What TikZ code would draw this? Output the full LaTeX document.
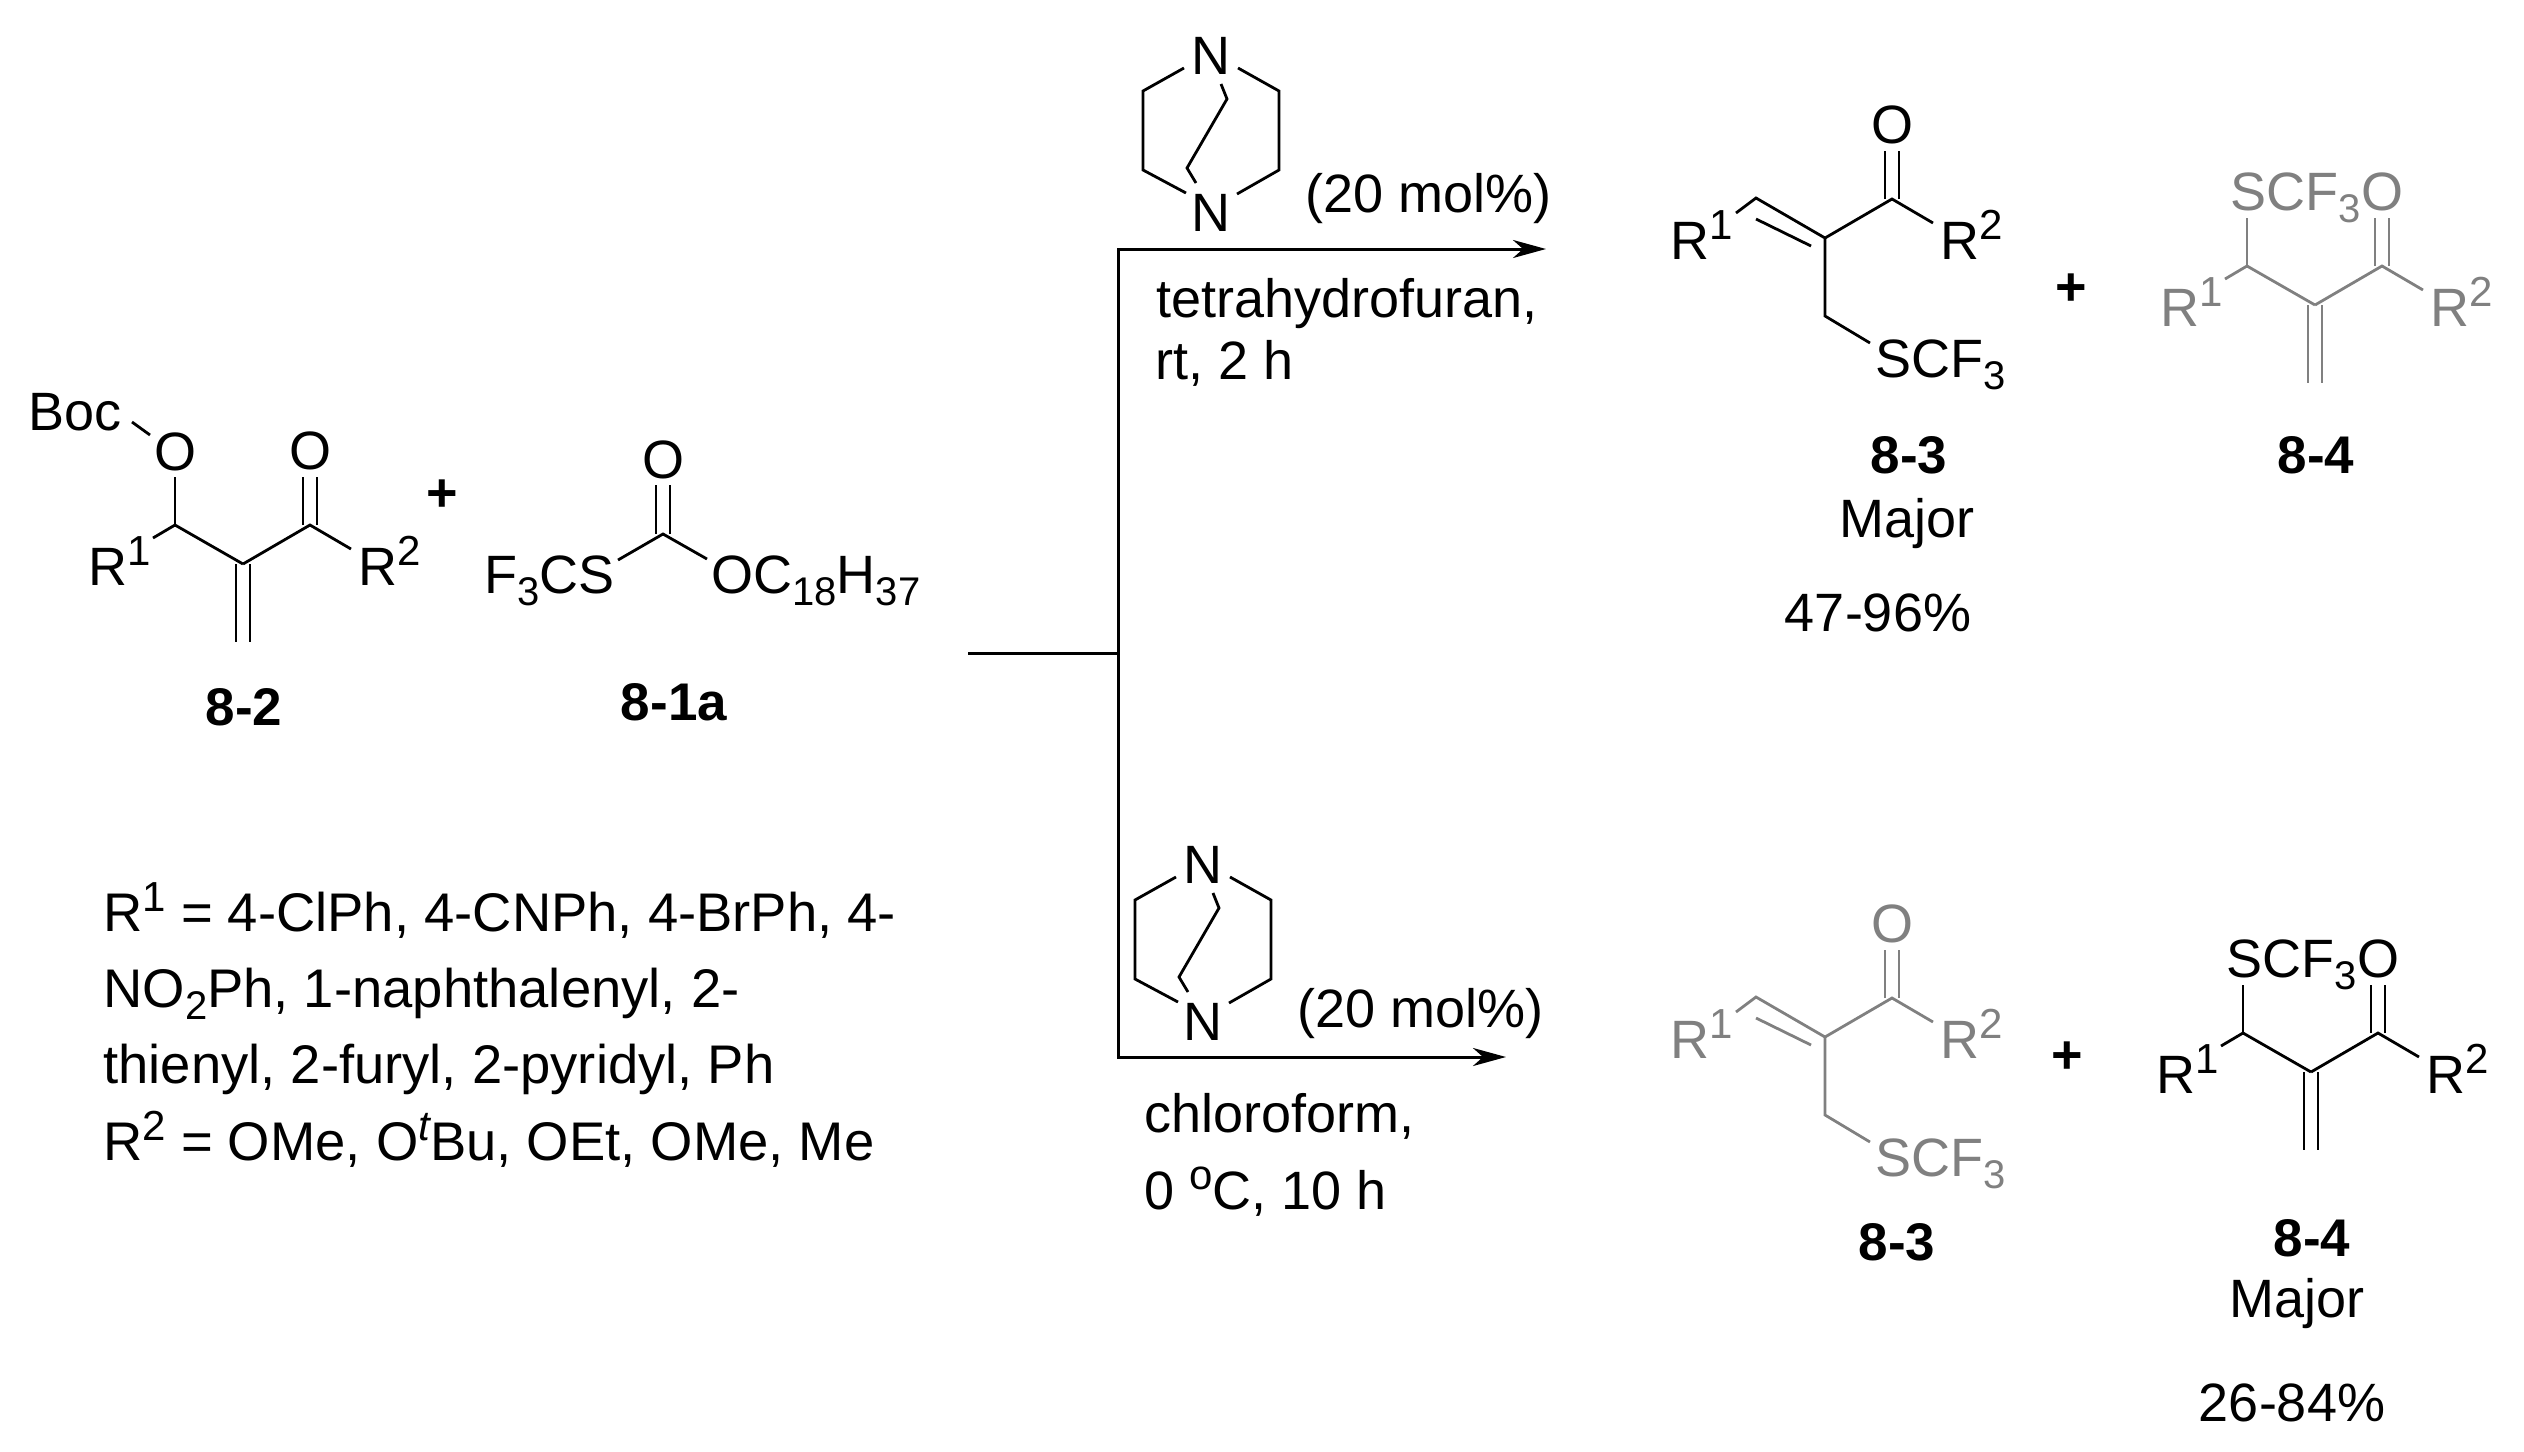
\documentclass[tikz,border=0pt]{standalone}
\usepackage{fontspec}
\setmainfont{Liberation Sans}
\usetikzlibrary{arrows.meta}
\definecolor{prodgrey}{HTML}{808080}
\newcommand{\sps}[1]{\raisebox{10pt}{\fontsize{21}{22}\selectfont #1}}
\newcommand{\sbs}[1]{\raisebox{-6pt}{\fontsize{20}{22}\selectfont #1}}
\tikzset{
  bond/.style={line width=1.4pt},
  atom/.style={inner sep=0pt,anchor=base west},
  atomc/.style={inner sep=0pt,anchor=base},
  tag/.style={inner sep=0pt,anchor=base,font=\fontsize{26.5}{30}\selectfont\bfseries},
  rxnline/.style={line width=1.5pt},
  rxnarrow/.style={line width=1.5pt,-{Stealth[length=16.5pt,width=9pt,inset=5pt]}}
}
% -- carbonyl arm
\newcommand{\carbonyl}{
\coordinate (c2) at (0,0);
\coordinate (c3) at (67,-39);
\coordinate (oa) at (60,-87);
\coordinate (ob) at (74,-87);
\coordinate (ca) at (60,-39);
\coordinate (cb) at (74,-39);
\coordinate (r2end) at (108,-15);
\node[atomc] (oxo) at (67,-95) {O};
\node[atom] (r2) at (115,21) {R\sps{2}};
\draw[bond] (c2)--(c3)--(r2end);
\draw[bond] (ca)--(oa);
\draw[bond] (cb)--(ob);
}
% -- skeleton with terminal methylene
\newcommand{\methylene}{
\carbonyl
\coordinate (c1) at (-68,-39);
\coordinate (subend) at (-68,-87);
\coordinate (r1end) at (-90,-26);
\coordinate (ma) at (-7,0);
\coordinate (mb) at (7,0);
\coordinate (na) at (-7,78);
\coordinate (nb) at (7,78);
\node[atom] (r1) at (-155,21) {R\sps{1}};
\draw[bond] (r1end)--(c1)--(c2);
\draw[bond] (c1)--(subend);
\draw[bond] (ma)--(na);
\draw[bond] (mb)--(nb);
}
% -- skeleton with internal alkene
\newcommand{\alkene}{
\carbonyl
\coordinate (c1) at (-69,-40);
\coordinate (r1end) at (-89,-25);
\coordinate (ia) at (-69,-19);
\coordinate (ib) at (-14,8);
\coordinate (ch) at (0,78);
\coordinate (send) at (45,105);
\node[atom] (r1) at (-155,21) {R\sps{1}};
\node[atom] (scf) at (50,139) {SCF\sbs{3}};
\draw[bond] (r1end)--(c1)--(c2)--(ch)--(send);
\draw[bond] (ia)--(ib);
}
% -- bicyclic amine
\newcommand{\cage}{
\node[atomc] (ntop) at (0,0) {N};
\node[atomc] (nbot) at (0,157) {N};
\coordinate (la) at (-27,-6);
\coordinate (lb) at (-68,17);
\coordinate (lc) at (-68,96);
\coordinate (ld) at (-25,119);
\coordinate (ra) at (27,-6);
\coordinate (rb) at (68,17);
\coordinate (rc) at (68,96);
\coordinate (rd) at (26,120);
\coordinate (ma) at (10,10);
\coordinate (mb) at (16,25);
\coordinate (mc) at (-24,94);
\coordinate (md) at (-15,109);
\draw[bond] (la)--(lb)--(lc)--(ld);
\draw[bond] (ra)--(rb)--(rc)--(rd);
\draw[bond] (ma)--(mb)--(mc)--(md);
}
\begin{document}
\begin{tikzpicture}[x=0.5pt,y=-0.5pt,font=\fontsize{27}{38.15}\selectfont]
\useasboundingbox (0,0) rectangle (2524,1452);
% -- starting materials
\begin{scope}[shift={(243,564)},name prefix=sm-]
\methylene
\node[atomc] (ether) at (-68,-94) {O};
\node[atom] (boc) at (-215,-134) {Boc};
\coordinate (boca) at (-111,-142);
\coordinate (bocb) at (-93,-129);
\draw[bond] (boca)--(bocb);
\end{scope}
\node[atomc] (plus1) at (442,511) {\bfseries +};
\coordinate (sc) at (663,534);
\coordinate (se) at (618,560);
\coordinate (oe) at (707,559);
\coordinate (oa) at (656,485);
\coordinate (ob) at (670,485);
\coordinate (ca) at (656,534);
\coordinate (cb) at (670,534);
\node[atomc] (thiooxo) at (663,478) {O};
\node[atom] (fcs) at (484,593) {F\sbs{3}CS};
\node[atom] (och) at (711,593) {OC\sbs{18}H\sbs{37}};
\draw[bond] (se)--(sc)--(oe);
\draw[bond] (ca)--(oa);
\draw[bond] (cb)--(ob);
\node[tag] (smlabel) at (244,725) {8-2};
\node[tag] (reagentlabel) at (674,720) {8-1a};
% -- substituent list
\node[inner sep=0pt,anchor=base west,align=left,font=\fontsize{27.2}{38.15}\selectfont] (scope) at (103,1160) {R\sps{1} = 4-ClPh, 4-CNPh, 4-BrPh, 4-\\NO\sbs{2}Ph, 1-naphthalenyl, 2-\\thienyl, 2-furyl, 2-pyridyl, Ph\\R\sps{2} = OMe, O\sps{\itshape t}Bu, OEt, OMe, Me};
% -- reaction lines
\coordinate (start) at (968,653);
\coordinate (junction) at (1118,653);
\coordinate (tiptop) at (1546,249);
\coordinate (tipbot) at (1506,1057);
\draw[rxnline] (start)--(junction);
\draw[rxnarrow] (junction) |- (tiptop);
\draw[rxnarrow] (junction) |- (tipbot);
% -- upper conditions
\begin{scope}[shift={(1211,74)},name prefix=cattop-]
\cage
\end{scope}
\node[atom] (moltop) at (1305,212) {(20 mol\%)};
\node[atom] (thf) at (1156,317) {tetrahydrofuran,};
\node[atom] (timetop) at (1155,379) {rt, 2 h};
% -- lower conditions
\begin{scope}[shift={(1203,883)},name prefix=catbot-]
\cage
\end{scope}
\node[atom] (molbot) at (1297,1027) {(20 mol\%)};
\node[atom] (chcl) at (1144,1132) {chloroform,};
\node[atom] (timebot) at (1144,1209) {0 \sps{o}C, 10 h};
% -- upper products
\begin{scope}[shift={(1825,238)},name prefix=pa-]
\alkene
\end{scope}
\node[atomc] (plus2) at (2071,305) {\bfseries +};
\begin{scope}[shift={(2315,305)},name prefix=pb-,prodgrey]
\methylene
\node[atom] (sub) at (-85,-95) {SCF\sbs{3}};
\end{scope}
\node[tag] (palabel) at (1909,473) {8-3};
\node[tag] (pblabel) at (2316,473) {8-4};
\node[atomc] (pamajor) at (1907,537) {Major};
\node[atomc] (payield) at (1878,631) {47-96\%};
% -- lower products
\begin{scope}[shift={(1825,1037)},name prefix=pc-,prodgrey]
\alkene
\end{scope}
\node[atomc] (plus3) at (2067,1073) {\bfseries +};
\begin{scope}[shift={(2311,1072)},name prefix=pd-]
\methylene
\node[atom] (sub) at (-85,-95) {SCF\sbs{3}};
\end{scope}
\node[tag] (pclabel) at (1897,1260) {8-3};
\node[tag] (pdlabel) at (2312,1256) {8-4};
\node[atomc] (pdmajor) at (2297,1317) {Major};
\node[atomc] (pdyield) at (2292,1421) {26-84\%};
\end{tikzpicture}
\end{document}
